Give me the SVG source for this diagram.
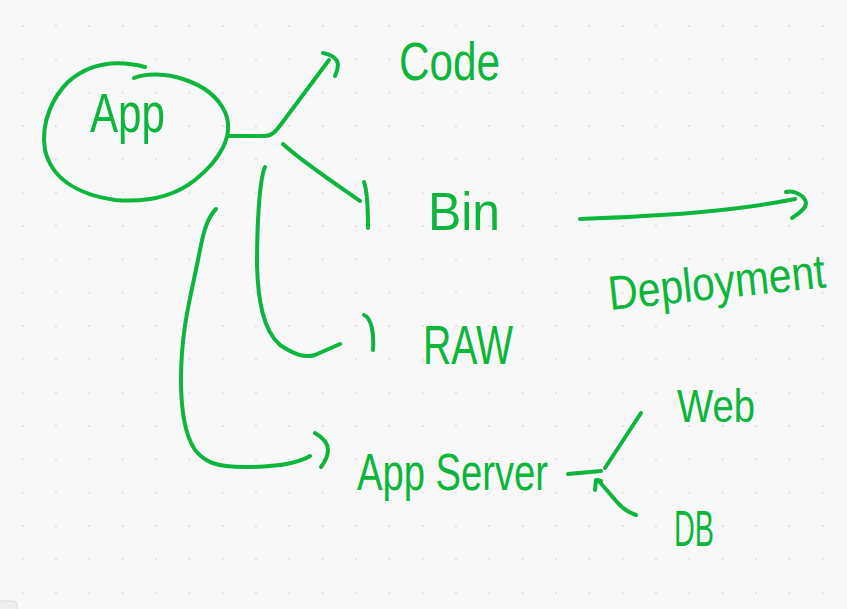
<svg xmlns="http://www.w3.org/2000/svg" width="847" height="609" viewBox="0 0 847 609">
  <defs>
    <pattern id="dots" patternUnits="userSpaceOnUse" x="6" y="9.33" width="33.333" height="33.333">
      <circle cx="16.667" cy="16.667" r="1.1" fill="#dcdcdc"/>
    </pattern>
    <style>
      .ink { fill: none; stroke: #0cb53c; stroke-width: 4; stroke-linecap: round; stroke-linejoin: round; }
      .lbl { fill: #0cb53c; font-family: "Liberation Sans", "Noto Sans", sans-serif; }
    </style>
  </defs>
  <rect x="0" y="0" width="847" height="609" fill="#f8f8f8"/>
  <rect x="0" y="0" width="847" height="609" fill="url(#dots)"/>
  <rect x="-6" y="601" width="23" height="14" rx="4" fill="#efefef" stroke="#dcdcdc" stroke-width="1"/>

  <g id="connectors">
    <path class="ink" d="M229,136 L265,136 C272,136 276,131 282,123 L329,60"/>
    <path class="ink" d="M323,53 C330,54 337,58 338,64 C338,69 337,72 335,76"/>
    <path class="ink" d="M283,144 C300,160 330,180 360,201"/>
    <path class="ink" d="M364,182 C367,190 368,215 368,228"/>
    <path class="ink" d="M265,167 C259,180 257,230 257,265 C258,300 263,330 280,345 C295,355 305,358 315,355 L340,344"/>
    <path class="ink" d="M364,315 C372,318 374,335 373,350"/>
    <path class="ink" d="M216,209 C205,220 202,240 199,255 C190,300 181,330 181,380 C181,410 185,435 195,450 C205,462 215,467 245,467 C280,467 300,462 310,456"/>
    <path class="ink" d="M315,433 C322,437 328,442 328,450 C328,457 324,463 321,467"/>
    <path class="ink" d="M580,219 C660,216 730,212 795,199"/>
    <path class="ink" d="M786,192 C795,190 805,196 806,203 C806,209 798,214 792,218"/>
    <path class="ink" d="M568,474 L601,471"/>
    <path class="ink" d="M605,468 L641,413"/>
    <path class="ink" d="M636,515 C630,513 622,508 617,502 L598,480"/>
    <path class="ink" d="M595,490 L596,480 L601,481"/>
  </g>

  <g id="app">
    <path class="ink" d="M134,78 C160,68 210,80 225,112 C235,135 220,160 195,180 C170,200 140,202 115,200 C80,195 52,180 45,150 C40,120 55,95 68,82 C85,67 110,58 145,67"/>
    <text class="lbl" x="90" y="132" font-size="56" textLength="75" lengthAdjust="spacingAndGlyphs">App</text>
  </g>
  <g id="code">
    <text class="lbl" x="399" y="80" font-size="54" textLength="101" lengthAdjust="spacingAndGlyphs">Code</text>
  </g>
  <g id="bin">
    <text class="lbl" x="428" y="230" font-size="54" textLength="72" lengthAdjust="spacingAndGlyphs">Bin</text>
  </g>
  <g id="raw">
    <text class="lbl" x="423" y="364" font-size="56" textLength="90" lengthAdjust="spacingAndGlyphs">RAW</text>
  </g>
  <g id="app-server">
    <text class="lbl" x="357" y="490" font-size="52" textLength="191" lengthAdjust="spacingAndGlyphs">App Server</text>
  </g>
  <g id="deployment">
    <text class="lbl" x="610" y="310" font-size="48" textLength="218" lengthAdjust="spacingAndGlyphs" transform="rotate(-6 610 310)">Deployment</text>
  </g>
  <g id="web">
    <text class="lbl" x="677" y="422" font-size="46" textLength="78" lengthAdjust="spacingAndGlyphs">Web</text>
  </g>
  <g id="db">
    <text class="lbl" x="674" y="546" font-size="50" textLength="40" lengthAdjust="spacingAndGlyphs">DB</text>
  </g>
</svg>
